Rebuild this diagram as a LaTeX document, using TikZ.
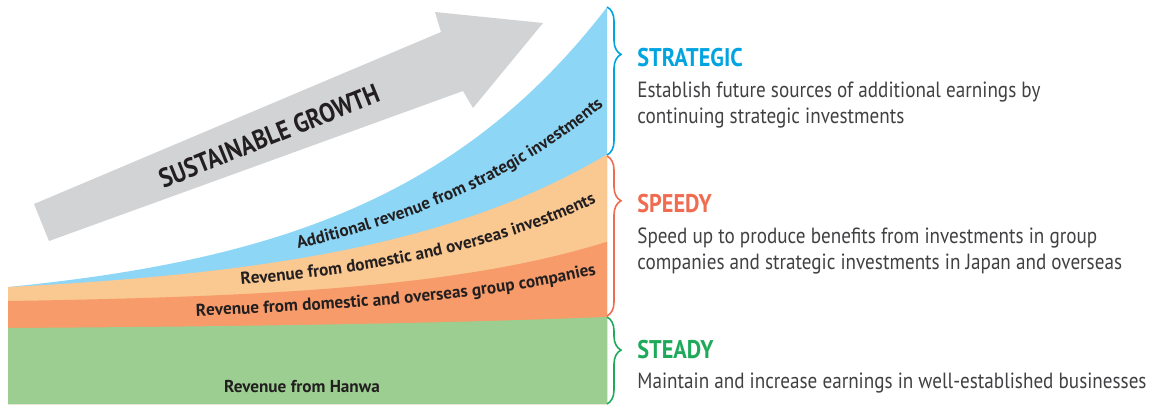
\documentclass[tikz,border=0pt]{standalone}
\usepackage{fontspec}
\setmainfont{PT Sans}[FakeStretch=0.87]
\newfontfamily\labelfamily{PT Sans}
\usetikzlibrary{decorations.pathreplacing,decorations.text}

\definecolor{skyband}{RGB}{142,214,245}
\definecolor{peachband}{RGB}{250,200,145}
\definecolor{coralband}{RGB}{246,155,105}
\definecolor{greenband}{RGB}{156,206,145}
\definecolor{arrowgray}{RGB}{209,211,212}
\definecolor{strategicblue}{RGB}{0,164,224}
\definecolor{speedyred}{RGB}{240,107,80}
\definecolor{steadygreen}{RGB}{30,170,90}
\definecolor{inkgray}{RGB}{65,64,66}
\definecolor{labelink}{RGB}{35,31,32}

\newcommand{\bandfont}{\labelfamily\fontsize{8.6}{10}\selectfont\bfseries\color{labelink}}

\tikzset{
  headline/.style={anchor=base west, inner sep=0pt, font=\fontsize{12.8}{14}\selectfont\bfseries},
  desc/.style={anchor=base west, inner sep=0pt, align=left, text=inkgray, font=\fontsize{11}{13}\selectfont},
  bracket/.style={decorate, decoration={brace, amplitude=7pt}, line width=0.8pt},
  bandtext/.style={decorate, decoration={text along path, text align=left}},
  declare function={
    btop(\t)=287-23*(exp(0.0043*(\t-8))-1);
    otop(\t)=287-12.4*(exp(0.0041*(\t-8))-1);
    rtop(\t)=301-3.11*(exp(0.005*(\t-8))-1);
    gtop(\t)=328-2.19*(exp(0.003*(\t-8))-1);
  }
}

\begin{document}
\begin{tikzpicture}[x=0.5pt, y=-0.5pt]
    \useasboundingbox (0,0) rectangle (1156,404);

    % growth arrow
    \fill[arrowgray] (34,204) -- (441,32) -- (435,12) -- (543,23) -- (473,108) -- (463,91) -- (49,241) -- cycle;
    \node[rotate=22, text=labelink, font=\fontsize{13.4}{15}\selectfont\bfseries] (growth) at (269,136) {SUSTAINABLE GROWTH};

    % revenue bands
    \fill[skyband] plot[domain=8:607, samples=60] (\x,{btop(\x)}) -- (607,404) -- (8,404) -- cycle;
    \fill[peachband] plot[domain=8:607, samples=60] (\x,{otop(\x)}) -- (607,404) -- (8,404) -- cycle;
    \fill[coralband] plot[domain=8:607, samples=60] (\x,{rtop(\x)}) -- (607,404) -- (8,404) -- cycle;
    \fill[greenband] plot[domain=8:607, samples=60] (\x,{gtop(\x)}) -- (607,404) -- (8,404) -- cycle;

    % band labels
    \path[bandtext, decoration={text={|\bandfont|Additional revenue from strategic investments}}]
        plot[domain=298:606, samples=50] (\x,{0.35*btop(\x)+0.65*otop(\x)});
    \path[bandtext, decoration={text={|\bandfont|Revenue from domestic and overseas investments}}]
        plot[domain=241:606, samples=50] (\x,{(0.34+0.16*(\x-240)/350)*otop(\x)+(0.66-0.16*(\x-240)/350)*rtop(\x)});
    \path[bandtext, decoration={text={|\bandfont|Revenue from domestic and overseas group companies}}]
        plot[domain=196:606, samples=50] (\x,{(0.34+0.25*(\x-196)/394)*rtop(\x)+(0.66-0.25*(\x-196)/394)*gtop(\x)});
    \node[text=labelink, font=\labelfamily\fontsize{8.6}{10}\selectfont\bfseries] (hanwa) at (302,386) {Revenue from Hanwa};

    % brackets
    \draw[bracket, strategicblue, decoration={aspect=0.32}] (607,7) -- (607,155);
    \draw[bracket, speedyred, decoration={aspect=0.28}] (607,156) -- (607,316);
    \draw[bracket, steadygreen, decoration={aspect=0.38}] (607,317) -- (607,404);

    % descriptions
    \node[headline, text=strategicblue] (strategic) at (637,66) {STRATEGIC};
    \node[desc] (strategicdesc) at (637,123) {Establish future sources of additional earnings by\\continuing strategic investments};
    \node[headline, text=speedyred] (speedy) at (637,212) {SPEEDY};
    \node[desc] (speedydesc) at (637,269) {Speed up to produce benefits from investments in group\\companies and strategic investments in Japan and overseas};
    \node[headline, text=steadygreen] (steady) at (637,358) {STEADY};
    \node[desc] (steadydesc) at (637,388) {Maintain and increase earnings in well-established businesses};
\end{tikzpicture}
\end{document}
